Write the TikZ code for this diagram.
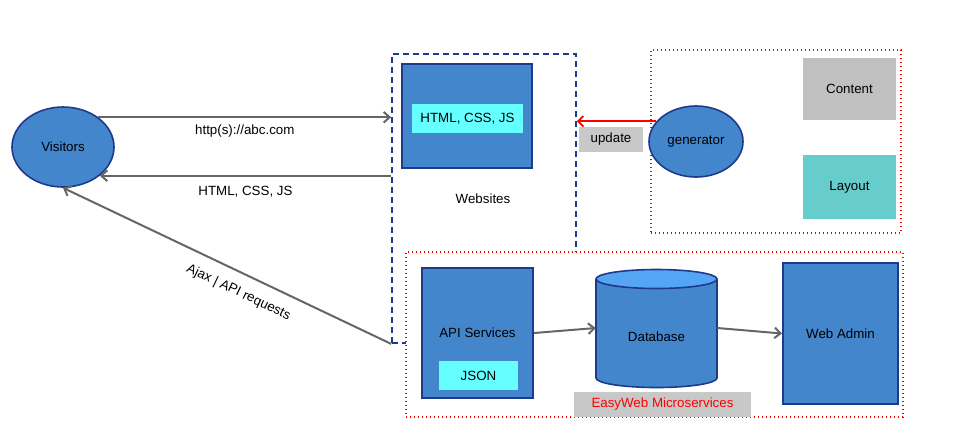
\documentclass[tikz,border=0pt]{standalone}
\usepackage{fontspec}
\setmainfont{Liberation Sans}
\usetikzlibrary{arrows.meta,shapes.geometric}
\definecolor{boxblue}{HTML}{4386CC}
\definecolor{topblue}{HTML}{55A5F5}
\definecolor{navy}{HTML}{1F3A8C}
\definecolor{aqua}{HTML}{66FFFF}
\definecolor{teal2}{HTML}{66CCCC}
\definecolor{lgray}{HTML}{C0C0C0}
\definecolor{tagray}{HTML}{C8C8C8}
\definecolor{linegray}{HTML}{666666}
\begin{document}
\begin{tikzpicture}
    [
        x=0.75pt, y=-0.75pt,
        every node/.style = {font=\fontsize{10}{12}\selectfont, inner sep=0pt},
        bluebox/.style    = {rectangle, draw=navy, line width=1.5pt, fill=boxblue},
        blueoval/.style   = {ellipse, draw=navy, line width=1.2pt, fill=boxblue},
        tagbox/.style     = {rectangle, fill=#1},
        dashbox/.style    = {rectangle, draw=navy, line width=1.3pt,
                             dash pattern=on 4.5pt off 3pt},
        dotbox/.style     = {rectangle, draw=red, line width=1.1pt,
                             dash pattern=on 1.1pt off 1.9pt},
        flow/.style       = {draw=linegray, line width=1.5pt,
                             -{Straight Barb[length=4.5pt,width=8pt]}}
    ]
    \useasboundingbox (0,0) rectangle (977,430);

    % visitors
    \node [blueoval, minimum width=76.5pt, minimum height=60pt] (vis) at (63,147) {Visitors};

    % websites
    \node [dashbox, minimum width=138pt, minimum height=216.75pt] (web) at (484,198.5) {};
    \node [bluebox, minimum width=97.5pt, minimum height=78pt] (site) at (467,116) {};
    \node [tagbox=aqua, minimum width=83.25pt, minimum height=21.75pt] (htm) at (467.5,118.5) {HTML, CSS, JS};
    \node (weblbl) at (483,199) {Websites};

    % generator
    \node [dotbox, minimum width=187.5pt, minimum height=137.25pt] (gbox) at (776,141.5) {};
    \node [blueoval, minimum width=70.5pt, minimum height=53.25pt] (gen) at (696,141.5) {generator};
    \node [tagbox=lgray, minimum width=69.75pt, minimum height=46.5pt] (cont) at (849.5,89) {Content};
    \node [tagbox=teal2, minimum width=69.75pt, minimum height=48pt] (lay) at (849.5,187) {Layout};
    \node [tagbox=tagray, minimum width=48pt, minimum height=18.75pt] (upd) at (611,139.5) {update};

    % microservices
    \node [dotbox, fill=white, minimum width=372.75pt, minimum height=123.75pt] (micro) at (654.5,334.5) {};
    \node [bluebox, minimum width=83.25pt, minimum height=97.5pt] (api) at (477.5,333) {API Services};
    \node [tagbox=aqua, minimum width=59.25pt, minimum height=21.75pt] (json) at (478.5,375.5) {JSON};
    \filldraw [fill=boxblue, draw=navy, line width=1.2pt] (656.5,378) ellipse [x radius=60.5, y radius=9.5];
    \fill [boxblue] (596,279) rectangle (717,378);
    \draw [navy, line width=1.2pt] (596,279) -- (596,378) (717,279) -- (717,378);
    \filldraw [fill=topblue, draw=navy, line width=1.2pt] (656.5,279) ellipse [x radius=60.5, y radius=9.5];
    \node [minimum width=90.75pt, minimum height=88.5pt] (db) at (656.5,328) {};
    \node (dblbl) at (656.5,337) {Database};
    \node [bluebox, minimum width=86.25pt, minimum height=105.75pt] (wa) at (840.5,333.5) {Web Admin};
    \node [tagbox=tagray, text=red, minimum width=132.75pt, minimum height=18.75pt] (easy) at (662.5,404.5) {EasyWeb Microservices};

    % connectors
    \draw [flow] (vis.40) -- (vis.40 -| web.west)
        node [midway, below=5pt] (l1) {http(s)://abc.com};
    \draw [flow] (web.west |- vis.-38) -- (vis.-38)
        node [midway, below=7pt] (l2) {HTML, CSS, JS};
    \draw [flow] (web.south west) -- (vis.south)
        node [pos=0.44, sloped, below=9pt] (l3) {Ajax | API requests};
    \draw [red, line width=1.3pt, -{Straight Barb[length=4pt,width=8pt]}] (gen.153) -- (gen.153 -| web.east);
    \draw [flow] (api.east) -- (db.west);
    \draw [flow] (db.east) -- (wa.west);
\end{tikzpicture}
\end{document}
